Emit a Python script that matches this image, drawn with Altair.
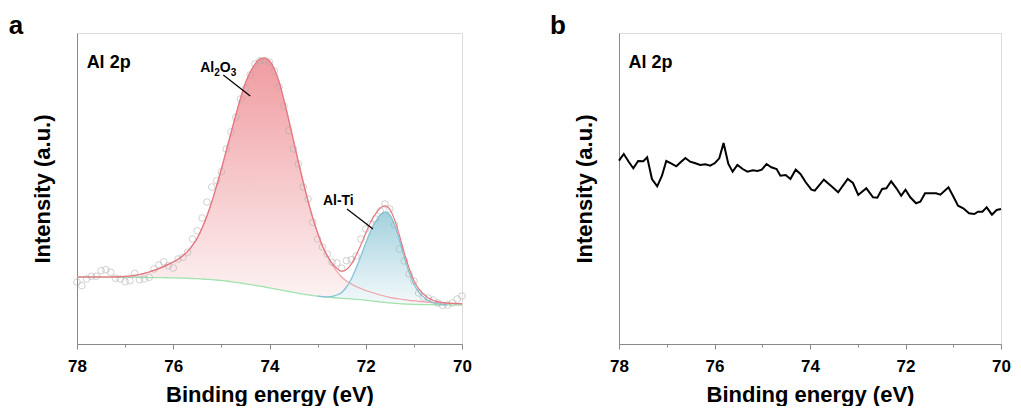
import altair as alt
import pandas as pd

# ---------------- Panel a: Al 2p XPS fit ----------------
energy_a = [78.0, 77.9, 77.8, 77.7, 77.6, 77.5, 77.4, 77.3, 77.2, 77.1, 77.0, 76.9, 76.8, 76.7, 76.6,
            76.5, 76.4, 76.3, 76.2, 76.1, 76.0, 75.9, 75.8, 75.7, 75.6, 75.5, 75.4, 75.3, 75.2, 75.1,
            75.0, 74.9, 74.8, 74.7, 74.6, 74.5, 74.4, 74.3, 74.2, 74.1, 74.0, 73.9, 73.8, 73.7, 73.6,
            73.5, 73.4, 73.3, 73.2, 73.1, 73.0, 72.9, 72.8, 72.7, 72.6, 72.5, 72.4, 72.3, 72.2, 72.1,
            72.0, 71.9, 71.8, 71.7, 71.6, 71.5, 71.4, 71.3, 71.2, 71.1, 71.0, 70.9, 70.8, 70.7, 70.6,
            70.5, 70.4, 70.3, 70.2, 70.1, 70.0]

raw_a = [62, 58.3, 65, 67.7, 67.7, 73.3, 74.3, 71.7, 65.7, 65, 62.3, 63.3, 70.7, 64.3, 65,
         66.7, 75, 79, 82.3, 78.3, 76, 85, 86.7, 91.7, 105, 113.3, 126, 142, 157, 163.3,
         172.3, 195, 212, 226.7, 245, 255.7, 269, 280, 283.3, 283.3, 281.7, 273, 257, 238, 213.3,
         195, 180, 157, 145, 121.7, 105, 97, 90, 81.7, 81, 75.7, 83.3, 84.3, 88, 105,
         115, 120, 125, 133, 140, 135, 119, 95, 83, 70, 63, 51, 47, 46, 44,
         41, 38.5, 39, 41, 45, 48]

background_a = [67.0, 67.0, 67.0, 67.0, 67.0, 66.9, 66.9, 66.8, 66.8, 66.7, 66.7, 66.6, 66.6, 66.5, 66.5,
                66.4, 66.4, 66.3, 66.3, 66.2, 66.1, 66.0, 65.9, 65.7, 65.5, 65.3, 65.0, 64.7, 64.4, 64.0,
                63.5, 63.0, 62.4, 61.7, 61.0, 60.2, 59.4, 58.6, 57.8, 57.0, 56.1, 55.2, 54.3, 53.4, 52.5,
                51.6, 50.7, 49.9, 49.1, 48.4, 47.8, 47.3, 46.8, 46.4, 46.0, 45.7, 45.4, 45.1, 44.7, 44.3,
                43.8, 43.3, 42.7, 42.1, 41.6, 41.1, 40.7, 40.3, 40.0, 39.8, 39.6, 39.5, 39.4, 39.3, 39.3,
                39.2, 39.2, 39.1, 39.1, 39.0, 39.0]

al2o3_a = [67.0, 67.0, 67.0, 67.0, 67.0, 67.0, 67.0, 67.0, 67.1, 67.3, 67.6, 68.0, 68.6, 69.5, 70.6,
           72.0, 73.6, 75.4, 77.4, 79.6, 82.0, 84.8, 88.2, 92.6, 98.6, 106, 116, 128, 142, 158,
           175, 193, 211, 229, 246, 261, 272, 280, 285, 286, 283, 275, 262, 244, 224,
           203, 182, 162, 143, 126, 111, 98, 88, 79.5, 72.5, 67.0, 63.0, 60.0, 57.5, 55.5,
           53.5, 52.0, 50.5, 49.0, 47.8, 46.7, 45.8, 45.0, 44.3, 43.7, 43.2, 42.7, 42.3, 41.9, 41.6,
           41.3, 41.0, 40.8, 40.6, 40.4, 40.2]

energy_alti = [73.0, 72.9, 72.8, 72.7, 72.6, 72.5, 72.4, 72.3, 72.2, 72.1, 72.0, 71.9, 71.8, 71.7,
               71.6, 71.5, 71.4, 71.3, 71.2, 71.1, 71.0, 70.9, 70.8, 70.7, 70.6, 70.5, 70.4, 70.3]
alti_a = [47.8, 47.4, 47.2, 47.6, 49.0, 51.5, 57.0, 65.0, 76.0, 88.0, 101.0, 113.0, 122.0, 129.0,
          132.0, 129.0, 119.0, 104.0, 87.0, 72.0, 60.0, 52.0, 47.0, 43.5, 41.5, 40.2, 39.5, 39.1]

# annotations (data coordinates); the Al2O3 label is split into pieces for subscripts
formula_parts = ["Al", "2", "O", "3"]
formula_sizes = [14, 10, 14, 10]
formula_dx = [0, 14, 19.5, 30.5]
formula_dy = [0, 4, 0, 4]
formula_x = 75.44
formula_y = 272
alti_text = ["Al-Ti"]
alti_x = [72.57]
alti_y = [139]
leader_x = [74.96, 72.39]
leader_y = [269, 135]
leader_x2 = [74.40, 71.85]
leader_y2 = [248, 115]

# ---------------- Panel b ----------------
energy_b = [78.00, 77.90, 77.79, 77.70, 77.60, 77.49, 77.41, 77.31, 77.20, 77.10, 77.01, 76.91, 76.80,
            76.71, 76.61, 76.51, 76.40, 76.30, 76.19, 76.09, 75.99, 75.90, 75.81, 75.71, 75.62, 75.52,
            75.41, 75.31, 75.20, 75.10, 75.01, 74.91, 74.81, 74.70, 74.62, 74.51, 74.41, 74.30, 74.20,
            74.09, 73.97, 73.90, 73.71, 73.55, 73.41, 73.21, 73.10, 72.99, 72.82, 72.68, 72.59, 72.49,
            72.40, 72.30, 72.19, 72.09, 72.00, 71.90, 71.78, 71.69, 71.59, 71.46, 71.36, 71.27, 71.10,
            70.99, 70.90, 70.79, 70.67, 70.56, 70.48, 70.39, 70.30, 70.19, 70.09, 70.00]
intensity_b = [183.3, 190, 181.7, 175.7, 183, 182.7, 186.7, 165, 157.7, 168.3, 183, 180.7, 177.7,
               181.7, 186, 182.3, 180.7, 179, 179.7, 178.3, 181, 185.7, 201, 180, 172.3, 179,
               175, 172.3, 173.7, 173, 174.3, 180, 176.7, 175, 168.3, 169, 165, 174.3, 170,
               161.7, 154.3, 153.3, 164.3, 157.7, 151.7, 165, 161, 149, 155.7, 146.7, 146.3, 155,
               155.7, 162.7, 155.7, 148.3, 154.3, 146.7, 140.7, 142.3, 150.7, 150.7, 150.7, 149.3, 156.7,
               146.7, 138.3, 135.7, 130.7, 130, 132.3, 132.3, 136.7, 129.3, 134, 135]

x_ticks = [78, 77, 76, 75, 74, 73, 72, 71, 70]

# ---------------- build tables ----------------
df_a = pd.DataFrame({"E": energy_a, "raw": raw_a, "bg": background_a, "al2o3": al2o3_a})
df_a["E"] = df_a["E"].round(1)
df_t = pd.DataFrame({"E": energy_alti, "alti": alti_a})
df_t["E"] = df_t["E"].round(1)
df_t = df_t.merge(df_a[["E", "bg"]], on="E", how="left")
df_a = df_a.merge(df_t[["E", "alti"]], on="E", how="left")
df_a["env"] = df_a["al2o3"] + (df_a["alti"] - df_a["bg"]).fillna(0)
df_alti = pd.DataFrame({"t": alti_text, "x": alti_x, "y": alti_y})
df_lead = pd.DataFrame({"x": leader_x, "y": leader_y, "x2": leader_x2, "y2": leader_y2})
df_b = pd.DataFrame({"E": energy_b, "I": intensity_b})

FONT = "Liberation Sans"
xs = alt.Scale(domain=[78, 70], nice=False, zero=False)
ys = alt.Scale(domain=[0, 311], nice=False, zero=False)

x_axis = alt.Axis(
    title="Binding energy (eV)", values=x_ticks,
    labelExpr="datum.value % 2 == 0 ? datum.label : ''",
    tickSize={"condition": {"test": "datum.value % 2 == 0", "value": 5}, "value": 3},
    labelFontSize=17, labelFontWeight="bold", labelPadding=9, labelFlush=False,
    titleFontSize=22, titleFontWeight="bold", titlePadding=10, grid=False,
)
y_axis = alt.Axis(title="Intensity (a.u.)", labels=False, ticks=False, grid=False,
                  titleFontSize=22, titleFontWeight="bold", titlePadding=23)

H = 311


def XQ(field):
    return alt.X(field, scale=xs, axis=x_axis)


def YQ(field):
    return alt.Y(field, scale=ys, axis=y_axis)


def panel_label(ch):
    return alt.Chart(pd.DataFrame({"t": [ch]})).mark_text(
        font=FONT, fontSize=26, fontWeight="bold", align="center", baseline="alphabetic", color="black"
    ).encode(x=alt.value(-61), y=alt.value(1), text="t:N")


def corner_text(name):
    return alt.Chart(pd.DataFrame({"t": [name], "x": [77.8], "y": [281]})).mark_text(
        font=FONT, fontSize=18, fontWeight="bold", align="left", baseline="middle", color="black"
    ).encode(x=XQ("x:Q"), y=YQ("y:Q"), text="t:N")


base_a = alt.Chart(df_a)
pink = alt.Gradient(gradient="linear", x1=0, x2=0, y1=0, y2=1,
                    stops=[alt.GradientStop(color="#f09ca1", offset=0),
                           alt.GradientStop(color="#fdf5f5", offset=1)])
blue = alt.Gradient(gradient="linear", x1=0, x2=0, y1=0, y2=1,
                    stops=[alt.GradientStop(color="#a3d1de", offset=0),
                           alt.GradientStop(color="#f4fafb", offset=1)])

area_al2o3 = base_a.mark_area(color=pink, interpolate="monotone").encode(
    x=XQ("E:Q"), y=YQ("al2o3:Q"), y2="bg:Q")
area_alti = alt.Chart(df_t).mark_area(color=blue, interpolate="monotone").encode(
    x=XQ("E:Q"), y=YQ("alti:Q"), y2="bg:Q")
line_bg = base_a.mark_line(color="#a2e2ad", strokeWidth=1.3, interpolate="monotone").encode(
    x=XQ("E:Q"), y=YQ("bg:Q"))
line_al2o3 = base_a.mark_line(color="#f0a0a6", strokeWidth=1.2, interpolate="monotone").encode(
    x=XQ("E:Q"), y=YQ("al2o3:Q"))
line_alti = alt.Chart(df_t).mark_line(color="#84c4d5", strokeWidth=1.3, interpolate="monotone").encode(
    x=XQ("E:Q"), y=YQ("alti:Q"))
line_env = base_a.mark_line(color="#e47880", strokeWidth=1.2, interpolate="monotone").encode(
    x=XQ("E:Q"), y=YQ("env:Q"))
pts = base_a.mark_point(shape="circle", filled=False, size=44, strokeWidth=0.8, color="#adadad").encode(
    x=XQ("E:Q"), y=YQ("raw:Q"))
leads = alt.Chart(df_lead).mark_rule(color="black", strokeWidth=1.2).encode(
    x=XQ("x:Q"), y=YQ("y:Q"), x2="x2:Q", y2="y2:Q")

form_layers = []
for part, size, dx, dy in zip(formula_parts, formula_sizes, formula_dx, formula_dy):
    form_layers.append(
        alt.Chart(pd.DataFrame({"t": [part], "x": [formula_x], "y": [formula_y]})).mark_text(
            font=FONT, fontWeight="bold", color="black", align="left", baseline="alphabetic",
            fontSize=size, dx=dx, dy=dy
        ).encode(x=XQ("x:Q"), y=YQ("y:Q"), text="t:N")
    )

alti_lab = alt.Chart(df_alti).mark_text(font=FONT, fontSize=14, fontWeight="bold", color="black",
                                        baseline="alphabetic").encode(
    x=XQ("x:Q"), y=YQ("y:Q"), text="t:N")

panel_a = alt.layer(area_al2o3, area_alti, line_bg, line_al2o3, line_alti, pts, line_env,
                    leads, *form_layers, alti_lab, corner_text("Al 2p"), panel_label("a")
                    ).properties(width=385, height=H)

line_b = alt.Chart(df_b).mark_line(color="black", strokeWidth=2).encode(
    x=XQ("E:Q"), y=YQ("I:Q"))
panel_b = alt.layer(line_b, corner_text("Al 2p"), panel_label("b")).properties(width=382, height=H)

chart = alt.hconcat(panel_a, panel_b, spacing=77).properties(
    padding={"left": 0, "top": 4, "right": 0, "bottom": 0}
).configure_view(stroke="black", strokeWidth=2).configure_axis(
    domainColor="black", domainWidth=2, tickColor="black", tickWidth=2,
    labelColor="black", titleColor="black", labelFont=FONT, titleFont=FONT
).configure(background="white")

chart.save("out.html", embed_options={"renderer": "svg", "actions": False})
